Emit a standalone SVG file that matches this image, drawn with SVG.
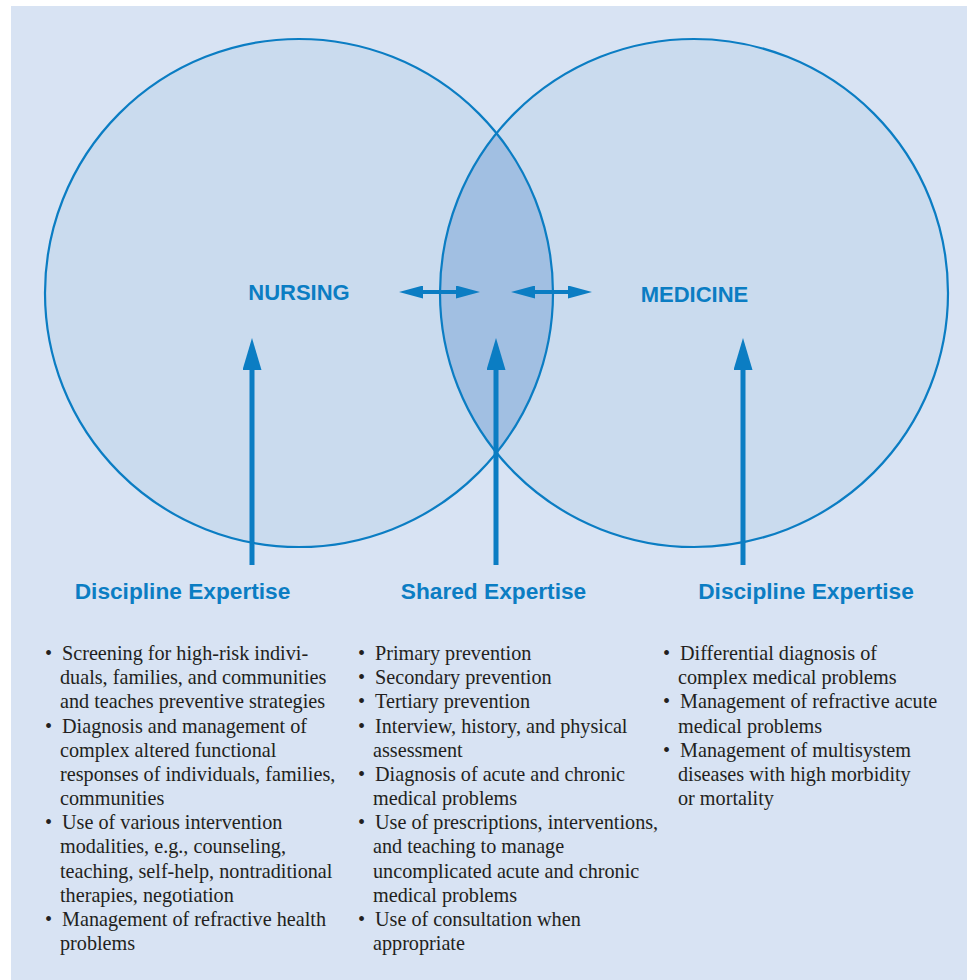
<svg xmlns="http://www.w3.org/2000/svg" width="967" height="980" viewBox="0 0 967 980">
<style>
.circ{fill:#cadbee;stroke:none}
.ring{fill:none;stroke:#0b7dc3;stroke-width:2.2}
.lens{fill:#a1bfe2;stroke:none}
.title{font-family:"Liberation Sans",Arial,sans-serif;font-weight:bold;font-size:22px;fill:#0b7dc3;text-anchor:middle}
.head{font-family:"Liberation Sans",Arial,sans-serif;font-weight:bold;font-size:22.7px;fill:#0b7dc3;text-anchor:middle}
.body{font-family:"Liberation Serif","Times New Roman",serif;font-size:20.2px;fill:#231f20}
.vshaft{stroke:#0b7dc3;stroke-width:5;fill:none}
.hshaft{stroke:#0b7dc3;stroke-width:4;fill:none}
</style>
<defs>
<marker id="vhead" markerUnits="userSpaceOnUse" viewBox="0 0 32 19" refX="0" refY="9.5" markerWidth="32" markerHeight="19" orient="auto">
<path d="M0,0 L32,9.5 L0,19 Z" fill="#0b7dc3"/>
</marker>
<marker id="hhead" markerUnits="userSpaceOnUse" viewBox="0 0 24 13" refX="0" refY="6.5" markerWidth="24" markerHeight="13" orient="auto-start-reverse">
<path d="M0,0 L24,6.5 L0,13 Z" fill="#0b7dc3"/>
</marker>
</defs>
<rect x="11" y="6" width="956" height="974" fill="#d8e3f3"/>
<g id="nursing">
<circle class="circ" cx="299" cy="293" r="254"/>
</g>
<g id="medicine">
<circle class="circ" cx="694" cy="293" r="254"/>
</g>
<g id="shared">
<path class="lens" d="M496.5,133.3 A254,254 0 0 1 496.5,452.7 A254,254 0 0 1 496.5,133.3 Z"/>
</g>
<g id="outlines">
<circle class="ring" cx="299" cy="293" r="254"/>
<circle class="ring" cx="694" cy="293" r="254"/>
</g>
<g id="labels">
<text class="title" x="299" y="300">NURSING</text>
<text class="title" x="694.5" y="302">MEDICINE</text>
</g>
<g id="connectors">
<line class="vshaft" x1="252" y1="565" x2="252" y2="370" marker-end="url(#vhead)"/>
<line class="vshaft" x1="496" y1="565" x2="496" y2="370" marker-end="url(#vhead)"/>
<line class="vshaft" x1="743" y1="565" x2="743" y2="370" marker-end="url(#vhead)"/>
<line class="hshaft" x1="423" y1="292" x2="456" y2="292" marker-start="url(#hhead)" marker-end="url(#hhead)"/>
<line class="hshaft" x1="535" y1="292" x2="568" y2="292" marker-start="url(#hhead)" marker-end="url(#hhead)"/>
</g>
<g id="nursing-expertise">
<text class="head" x="182.5" y="599">Discipline Expertise</text>
<g class="body">
<text x="45" y="660">•</text><text x="62" y="660">Screening for high-risk indivi-</text>
<text x="60" y="684.2">duals, families, and communities</text>
<text x="60" y="708.3">and teaches preventive strategies</text>
<text x="45" y="732.5">•</text><text x="62" y="732.5">Diagnosis and management of</text>
<text x="60" y="756.7">complex altered functional</text>
<text x="60" y="780.8">responses of individuals, families,</text>
<text x="60" y="805">communities</text>
<text x="45" y="829.2">•</text><text x="62" y="829.2">Use of various intervention</text>
<text x="60" y="853.3">modalities, e.g., counseling,</text>
<text x="60" y="877.5">teaching, self-help, nontraditional</text>
<text x="60" y="901.7">therapies, negotiation</text>
<text x="45" y="925.8">•</text><text x="62" y="925.8">Management of refractive health</text>
<text x="60" y="950">problems</text>
</g>
</g>
<g id="shared-expertise">
<text class="head" x="493.5" y="599">Shared Expertise</text>
<g class="body">
<text x="358" y="660">•</text><text x="375" y="660">Primary prevention</text>
<text x="358" y="684.2">•</text><text x="375" y="684.2">Secondary prevention</text>
<text x="358" y="708.3">•</text><text x="375" y="708.3">Tertiary prevention</text>
<text x="358" y="732.5">•</text><text x="375" y="732.5">Interview, history, and physical</text>
<text x="373" y="756.7">assessment</text>
<text x="358" y="780.8">•</text><text x="375" y="780.8">Diagnosis of acute and chronic</text>
<text x="373" y="805">medical problems</text>
<text x="358" y="829.2">•</text><text x="375" y="829.2">Use of prescriptions, interventions,</text>
<text x="373" y="853.3">and teaching to manage</text>
<text x="373" y="877.5">uncomplicated acute and chronic</text>
<text x="373" y="901.7">medical problems</text>
<text x="358" y="925.8">•</text><text x="375" y="925.8">Use of consultation when</text>
<text x="373" y="950">appropriate</text>
</g>
</g>
<g id="medicine-expertise">
<text class="head" x="806" y="599">Discipline Expertise</text>
<g class="body">
<text x="663" y="660">•</text><text x="680" y="660">Differential diagnosis of</text>
<text x="678" y="684.2">complex medical problems</text>
<text x="663" y="708.3">•</text><text x="680" y="708.3">Management of refractive acute</text>
<text x="678" y="732.5">medical problems</text>
<text x="663" y="756.7">•</text><text x="680" y="756.7">Management of multisystem</text>
<text x="678" y="780.8">diseases with high morbidity</text>
<text x="678" y="805">or mortality</text>
</g>
</g>
</svg>
